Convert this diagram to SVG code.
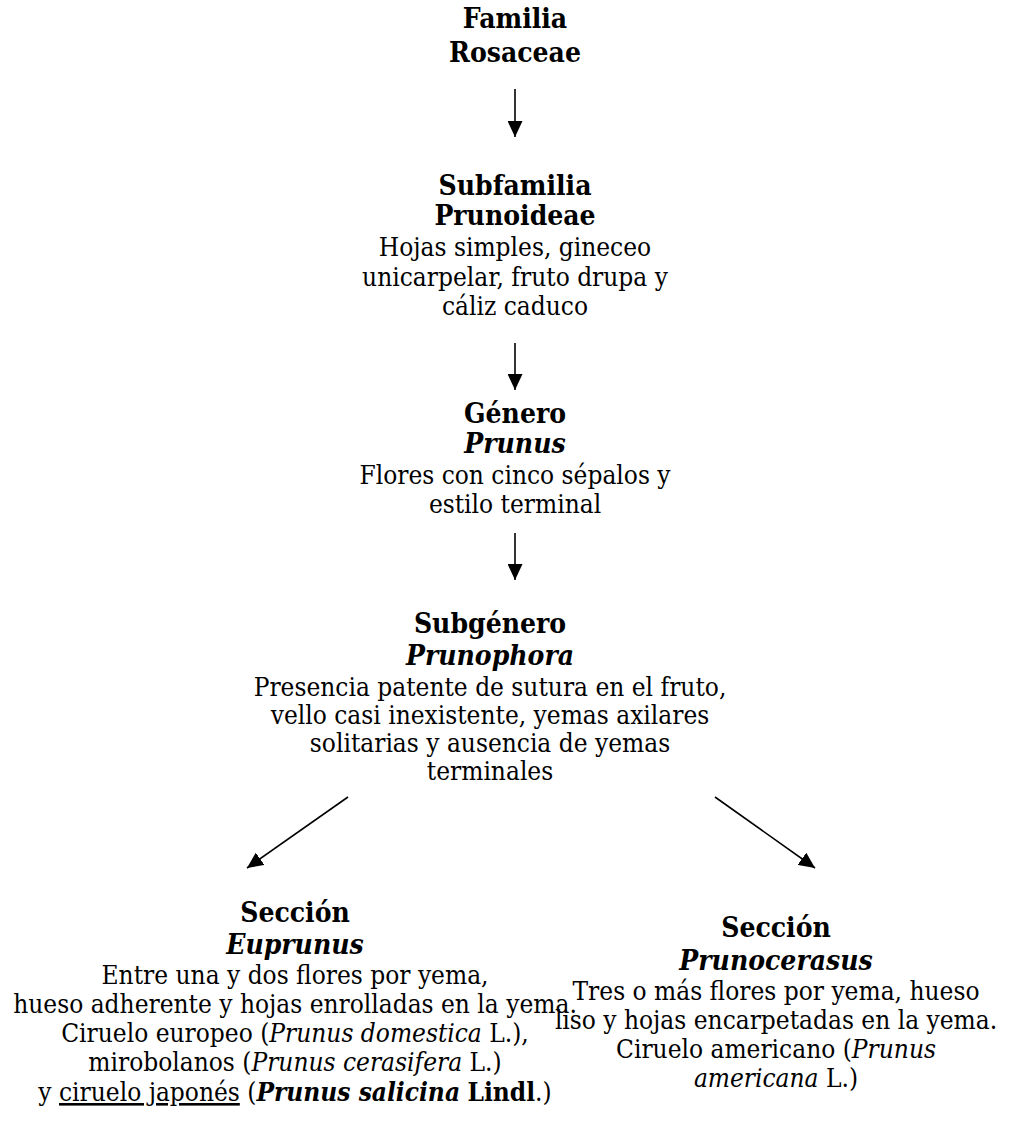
<svg xmlns="http://www.w3.org/2000/svg" width="1017" height="1147" viewBox="0 0 1017 1147">
<defs>
<style>
text { font-family: "DejaVu Serif", "Liberation Serif", serif; font-stretch: condensed; fill: #000; text-anchor: middle; }
.h { font-weight: bold; font-size: 28px; }
.hi { font-weight: bold; font-style: italic; font-size: 28px; }
.b { font-size: 26px; }
.i { font-style: italic; }
.bd { font-weight: bold; }
.u { text-decoration: underline; }
#connectors line { stroke: #000; stroke-width: 1.6; fill: none; }
</style>
<marker id="ah" markerUnits="userSpaceOnUse" markerWidth="16" markerHeight="15" refX="16" refY="7.5" orient="auto">
<path d="M0,0 L16,7.5 L0,15 Z" fill="#000"/>
</marker>
</defs>
<rect width="1017" height="1147" fill="#fff"/>

<g id="familia">
<text class="h" x="515" y="28">Familia</text>
<text class="h" x="515" y="62">Rosaceae</text>
</g>

<g id="subfamilia">
<text class="h" x="515" y="195">Subfamilia</text>
<text class="h" x="515" y="225">Prunoideae</text>
<text class="b" x="515" y="256">Hojas simples, gineceo</text>
<text class="b" x="515" y="286">unicarpelar, fruto drupa y</text>
<text class="b" x="515" y="315">cáliz caduco</text>
</g>

<g id="genero">
<text class="h" x="515" y="423">Género</text>
<text class="hi" x="515" y="453">Prunus</text>
<text class="b" x="515" y="484">Flores con cinco sépalos y</text>
<text class="b" x="515" y="513">estilo terminal</text>
</g>

<g id="subgenero">
<text class="h" x="490" y="633">Subgénero</text>
<text class="hi" x="490" y="665">Prunophora</text>
<text class="b" x="490" y="696">Presencia patente de sutura en el fruto,</text>
<text class="b" x="490" y="724">vello casi inexistente, yemas axilares</text>
<text class="b" x="490" y="752">solitarias y ausencia de yemas</text>
<text class="b" x="490" y="780">terminales</text>
</g>

<g id="euprunus">
<text class="h" x="295" y="922">Sección</text>
<text class="hi" x="295" y="954">Euprunus</text>
<text class="b" x="295" y="984">Entre una y dos flores por yema,</text>
<text class="b" x="295" y="1013">hueso adherente y hojas enrolladas en la yema.</text>
<text class="b" x="295" y="1042">Ciruelo europeo (<tspan class="i">Prunus domestica</tspan> L.),</text>
<text class="b" x="295" y="1071">mirobolanos (<tspan class="i">Prunus cerasifera</tspan> L.)</text>
<text class="b" x="295" y="1101">y <tspan class="u">ciruelo japonés</tspan> (<tspan class="i bd">Prunus salicina</tspan> <tspan class="bd">Lindl</tspan>.)</text>
</g>

<g id="prunocerasus">
<text class="h" x="776" y="937">Sección</text>
<text class="hi" x="776" y="970">Prunocerasus</text>
<text class="b" x="776" y="1000">Tres o más flores por yema, hueso</text>
<text class="b" x="776" y="1029">liso y hojas encarpetadas en la yema.</text>
<text class="b" x="776" y="1058">Ciruelo americano (<tspan class="i">Prunus</tspan></text>
<text class="b" x="776" y="1087"><tspan class="i">americana</tspan> L.)</text>
</g>

<g id="connectors">
<line x1="515" y1="89" x2="515" y2="137" marker-end="url(#ah)"/>
<line x1="515" y1="343" x2="515" y2="390" marker-end="url(#ah)"/>
<line x1="515" y1="533" x2="515" y2="580" marker-end="url(#ah)"/>
<line x1="348" y1="797" x2="247" y2="868" marker-end="url(#ah)"/>
<line x1="715" y1="797" x2="815" y2="868" marker-end="url(#ah)"/>
</g>
</svg>
